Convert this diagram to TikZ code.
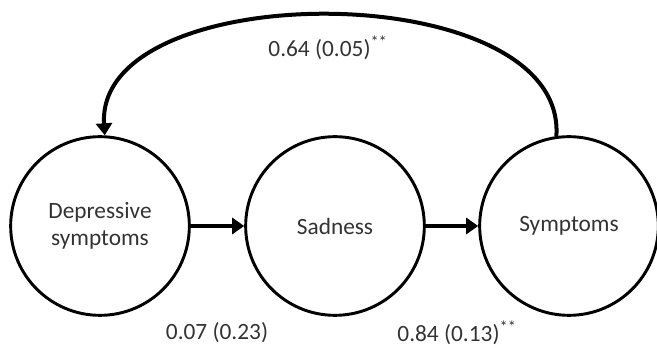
\documentclass[tikz,border=0pt]{standalone}
\usepackage{fontspec}
\setmainfont{Carlito}
\usetikzlibrary{arrows.meta}
\begin{document}
\begin{tikzpicture}[x=0.75pt,y=-0.75pt,
  latent/.style={circle,draw=black,line width=2.2pt,minimum size=134pt,inner sep=0pt,
    font=\fontsize{17.5}{20}\selectfont,text=black!80,align=center},
  path/.style={line width=3pt,-{Triangle[length=9pt,width=12pt]}},
  lbl/.style={font=\fontsize{17.5}{20}\selectfont,text=black!80,inner sep=0pt}]
\useasboundingbox (0,0) rectangle (657,348);
\node[latent] (dep) at (100,226) {Depressive\\symptoms};
\node[latent] (sad) at (335,226) {Sadness};
\node[latent] (sym) at (569,226) {Symptoms};
\draw[path] (dep) -- (sad);
\draw[path] (sad) -- (sym);
\draw[path] (sym.98) .. controls (567,-25) and (95,-25) .. (dep.87);
\node[lbl] (l1) at (328,48) {0.64 (0.05)\textsuperscript{**}};
\node[lbl] (l2) at (217,333) {0.07 (0.23)};
\node[lbl] (l3) at (457,333) {0.84 (0.13)\textsuperscript{**}};
\end{tikzpicture}
\end{document}
